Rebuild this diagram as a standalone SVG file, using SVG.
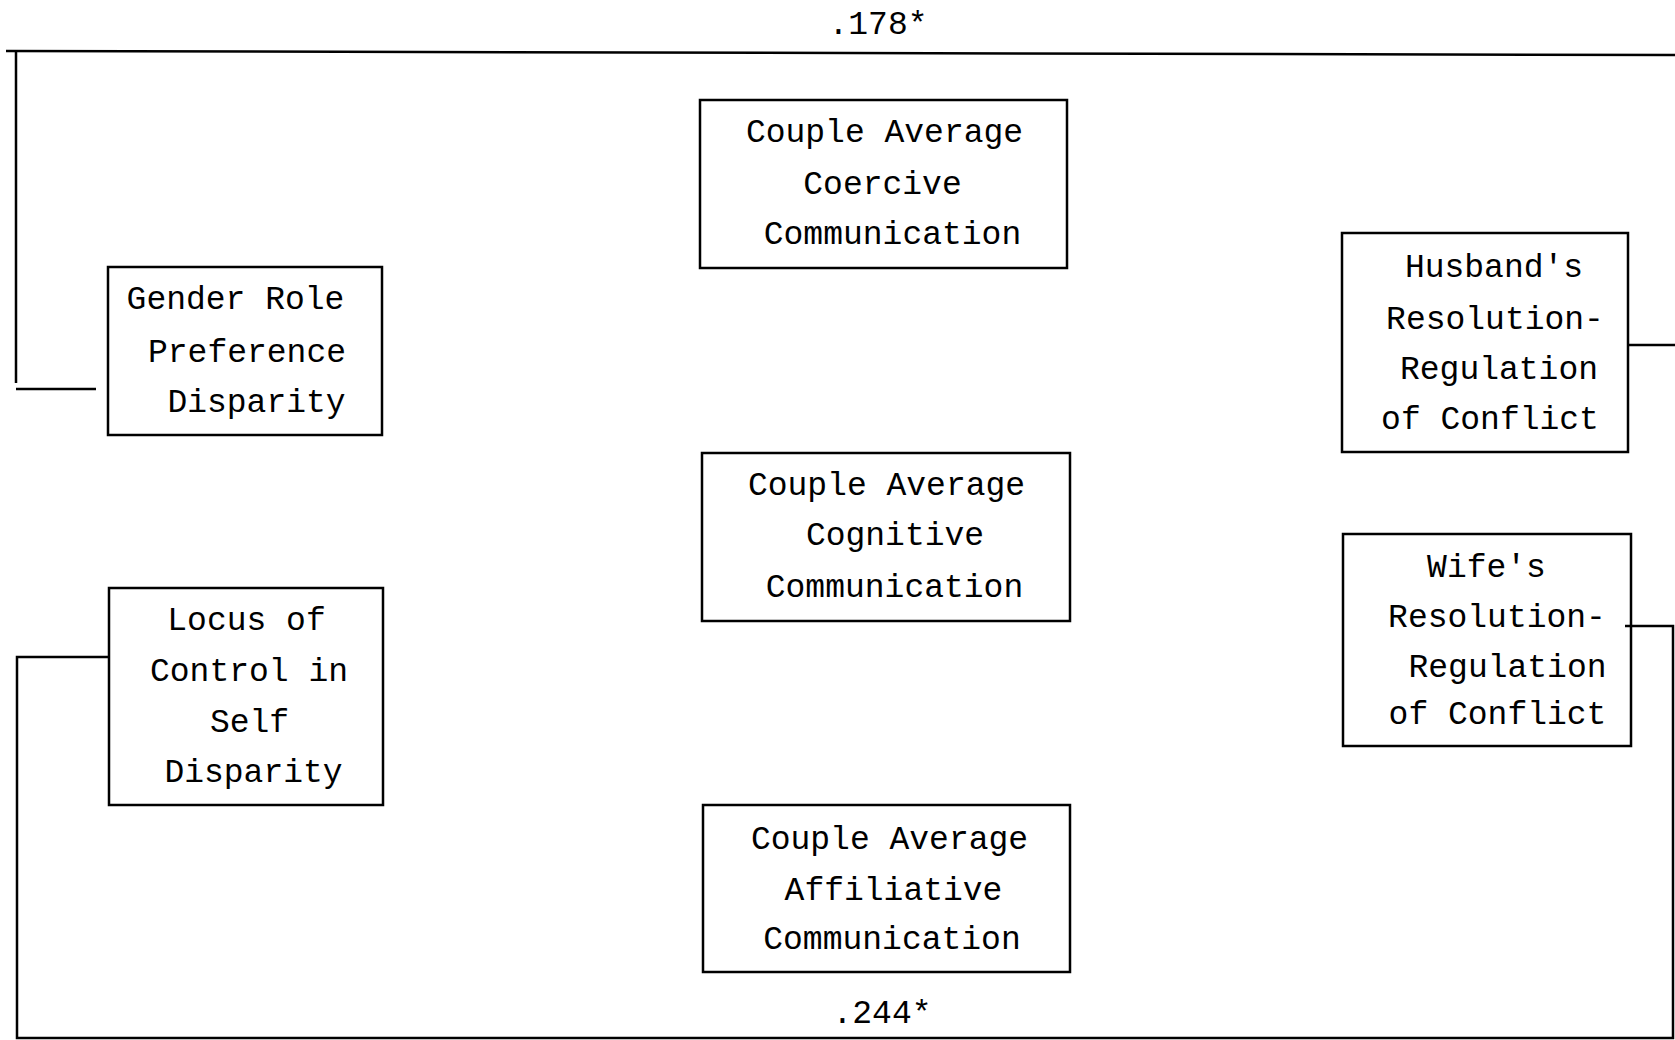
<svg xmlns="http://www.w3.org/2000/svg" width="1675" height="1040" viewBox="0 0 1675 1040">
<style>
.box{fill:none;stroke:#000;stroke-width:2.5}
.con{fill:none;stroke:#000;stroke-width:2.5}
text{font-family:"Liberation Mono","Courier New",monospace;font-size:33px;fill:#000;text-anchor:middle}
</style>
<rect width="1675" height="1040" fill="#fff"/>
<g id="connectors">
<path class="con" d="M6,51 L1675,55"/>
<path class="con" d="M16,51 V383"/>
<path class="con" d="M16,389 H96"/>
<path class="con" d="M1628,345 H1675"/>
<path class="con" d="M109,657 H17 V1038 H1673 V626 H1625"/>
<text x="878" y="34">.178*</text>
<text x="882" y="1023">.244*</text>
</g>
<g id="coercive">
<rect class="box" x="700" y="100" width="367" height="168"/>
<text x="884.5" y="142">Couple Average</text>
<text x="882.5" y="194">Coercive</text>
<text x="892.5" y="244">Communication</text>
</g>
<g id="gender">
<rect class="box" x="108" y="267" width="274" height="168"/>
<text x="235.5" y="309">Gender Role</text>
<text x="247" y="362">Preference</text>
<text x="256.5" y="412">Disparity</text>
</g>
<g id="husband">
<rect class="box" x="1342" y="233" width="286" height="219"/>
<text x="1494" y="277">Husband's</text>
<text x="1495" y="329">Resolution-</text>
<text x="1499" y="379">Regulation</text>
<text x="1490" y="429">of Conflict</text>
</g>
<g id="cognitive">
<rect class="box" x="702" y="453" width="368" height="168"/>
<text x="886.5" y="495">Couple Average</text>
<text x="895" y="545">Cognitive</text>
<text x="894.5" y="597">Communication</text>
</g>
<g id="wife">
<rect class="box" x="1343" y="534" width="288" height="212"/>
<text x="1486.5" y="577">Wife's</text>
<text x="1497" y="627">Resolution-</text>
<text x="1507.5" y="677">Regulation</text>
<text x="1497.5" y="724">of Conflict</text>
</g>
<g id="locus">
<rect class="box" x="109" y="588" width="274" height="217"/>
<text x="246.5" y="630">Locus of</text>
<text x="249" y="681">Control in</text>
<text x="249.5" y="732">Self</text>
<text x="253.5" y="782">Disparity</text>
</g>
<g id="affiliative">
<rect class="box" x="703" y="805" width="367" height="167"/>
<text x="889.5" y="849">Couple Average</text>
<text x="893.5" y="900">Affiliative</text>
<text x="892" y="949">Communication</text>
</g>
</svg>
